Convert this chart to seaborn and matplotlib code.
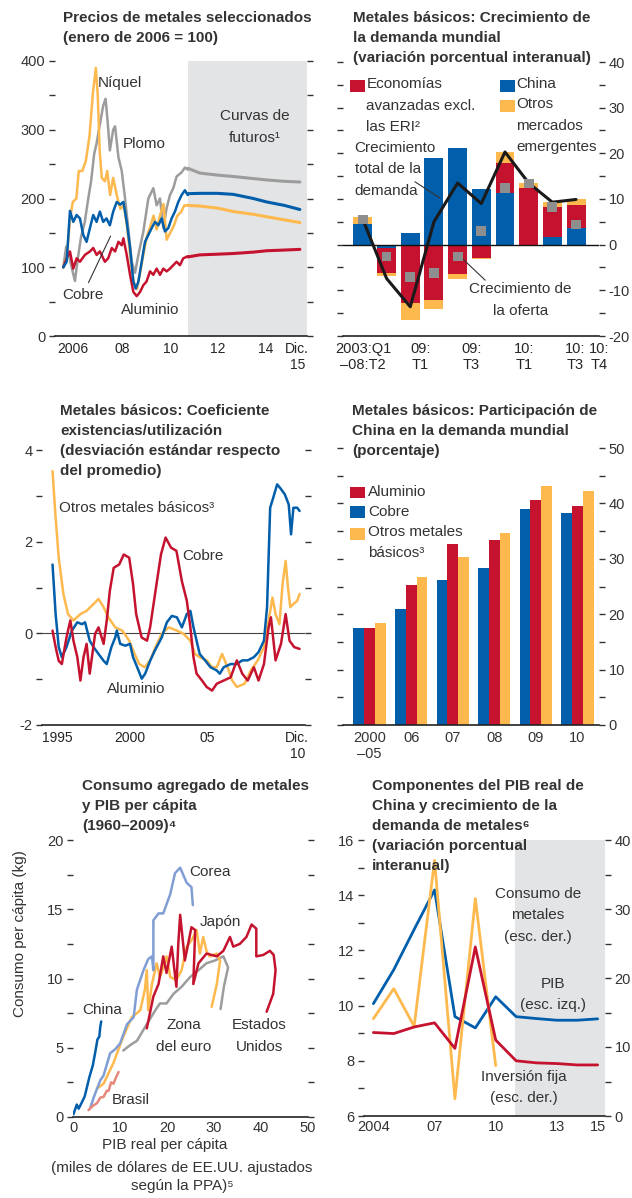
import numpy as np
import pandas as pd
import seaborn as sns
import matplotlib.pyplot as plt
from matplotlib.patches import Rectangle

sns.set_style('white')
plt.rcParams['font.family'] = ['Liberation Sans', 'DejaVu Sans']
plt.rcParams['axes.unicode_minus'] = False

ROJO = '#C5132F'
AZUL = '#005EAB'
NARANJA = '#FDB94E'
GRIS = '#9C9C9C'
AZUL_CLARO = '#809ED3'
SALMON = '#E8877B'
SOMBRA = '#E3E4E6'
TXT = '#333333'
LS = 1.68

# ---- panel 1: precios de metales (enero 2006 = 100)
niquel_t = [2006.00, 2006.15, 2006.28, 2006.40, 2006.55, 2006.65, 2006.80, 2006.95, 2007.10, 2007.25,
            2007.37, 2007.45, 2007.53, 2007.62, 2007.75, 2007.85, 2007.97, 2008.10, 2008.25, 2008.40,
            2008.55, 2008.68, 2008.82, 2008.95, 2009.10, 2009.25, 2009.38, 2009.52, 2009.65, 2009.80,
            2009.93, 2010.07, 2010.22, 2010.35, 2010.50, 2010.65, 2010.80, 2010.95, 2011.10, 2011.24]
niquel_v = [100, 115, 170, 195, 200, 240, 240, 255, 290, 355, 390, 350, 270, 230, 225, 240, 205, 230, 205, 185,
            190, 160, 115, 80, 68, 95, 120, 145, 158, 175, 155, 175, 192, 140, 150, 160, 175, 180, 190, 190]
plomo_t = [2006.00, 2006.12, 2006.22, 2006.35, 2006.49, 2006.60, 2006.75, 2006.90, 2007.05, 2007.17,
           2007.30, 2007.40, 2007.55, 2007.68, 2007.78, 2007.87, 2007.96, 2008.10, 2008.18, 2008.32,
           2008.46, 2008.60, 2008.74, 2008.88, 2009.02, 2009.16, 2009.37, 2009.58, 2009.79, 2009.93,
           2010.07, 2010.21, 2010.35, 2010.49, 2010.63, 2010.77, 2010.98, 2011.12, 2011.24]
plomo_v = [100, 130, 120, 100, 80, 110, 145, 165, 200, 225, 265, 280, 310, 335, 345, 310, 270, 300, 305, 260,
           240, 200, 155, 108, 92, 118, 152, 200, 215, 190, 200, 157, 186, 205, 215, 232, 238, 245, 242]
cobre_t = [2006.00, 2006.14, 2006.28, 2006.42, 2006.56, 2006.70, 2006.84, 2006.98, 2007.12, 2007.26,
           2007.40, 2007.54, 2007.68, 2007.82, 2007.96, 2008.10, 2008.25, 2008.39, 2008.53, 2008.67,
           2008.81, 2008.95, 2009.05, 2009.16, 2009.30, 2009.44, 2009.58, 2009.72, 2009.86, 2010.00,
           2010.14, 2010.28, 2010.42, 2010.56, 2010.70, 2010.84, 2010.98, 2011.12, 2011.24]
cobre_v = [100, 108, 182, 166, 176, 171, 147, 137, 157, 176, 166, 181, 166, 171, 161, 181, 195, 191, 195, 166,
           128, 79, 69, 79, 108, 137, 147, 157, 166, 161, 171, 152, 157, 171, 181, 195, 205, 212, 205]
aluminio_t = [2006.00, 2006.14, 2006.28, 2006.42, 2006.56, 2006.70, 2006.91, 2007.12, 2007.26, 2007.40,
              2007.54, 2007.75, 2007.89, 2008.04, 2008.18, 2008.32, 2008.46, 2008.53, 2008.67, 2008.81,
              2008.95, 2009.09, 2009.23, 2009.37, 2009.50, 2009.65, 2009.79, 2009.93, 2010.07, 2010.21,
              2010.35, 2010.49, 2010.63, 2010.77, 2010.91, 2011.05, 2011.24]
aluminio_v = [100, 113, 123, 98, 113, 108, 118, 123, 128, 118, 123, 108, 113, 128, 123, 137, 132, 142, 118, 89,
              64, 58, 64, 74, 79, 94, 89, 98, 89, 98, 94, 98, 103, 108, 103, 113, 116]
futuros_t = [2011.24, 2011.75, 2012.5, 2013.16, 2014.0, 2014.56, 2015.3, 2015.96]
plomo_fut = [244, 237, 234, 232, 229, 227, 225, 224]
cobre_fut = [207, 207.5, 207.5, 206, 200, 195, 190, 184]
niquel_fut = [190, 189, 186, 181, 177, 173.5, 169, 165]
aluminio_fut = [115, 118, 119, 120, 122, 124, 125, 126]

# ---- panel 2: crecimiento de la demanda mundial
trimestres = ['2003:Q1–08:T2', '08:T3', '08:T4', '09:T1', '09:T2', '09:T3', '09:T4', '10:T1', '10:T2', '10:T3']
china = [4.5, -0.7, 2.5, 18.9, 21.1, 12.1, 11.3, 0.0, 1.6, 3.6]
avanzadas = [-0.4, -5.5, -12.8, -12.2, -6.5, -2.9, 6.6, 12.4, 6.6, 5.0]
otros_em = [1.5, -0.6, -3.6, -1.9, -1.1, -0.3, 2.5, 1.2, 1.1, 1.3]
demanda_total = [5.5, -7.4, -13.6, 5.0, 13.5, 9.0, 20.3, 13.5, 9.3, 9.9]
oferta = [5.5, -2.6, -7.1, -6.2, -2.6, 3.0, 12.4, 13.4, 8.2, 4.4]

# ---- panel 3: coeficiente existencias/utilizacion
alu_t = [1995.0, 1995.2, 1995.4, 1995.6, 1995.9, 1996.25, 1996.6, 1996.9, 1997.1, 1997.4, 1997.65, 1997.97,
         1998.3, 1998.5, 1998.8, 1999.05, 1999.15, 1999.37, 1999.7, 2000.0, 2000.2, 2000.55, 2000.76, 2000.98,
         2001.3, 2001.6, 2002.05, 2002.38, 2002.7, 2003.03, 2003.35, 2003.67, 2003.9, 2004.1, 2004.3, 2004.5,
         2004.85, 2005.2, 2005.6, 2005.8, 2006.05, 2006.5, 2006.9, 2007.25, 2007.6, 2008.0, 2008.3, 2008.65,
         2008.85, 2009.05, 2009.25, 2009.5, 2009.7, 2010.0, 2010.25, 2010.4, 2010.55, 2010.8, 2010.95]
alu_v = [1.5, 0.42, -0.3, -0.52, -0.3, 0.06, 0.24, 0.2, 0.24, -0.16, -0.3, -0.45, -0.6, -0.67, -0.3, -0.09,
         0.06, -0.23, -0.27, -0.23, -0.52, -0.81, -0.99, -0.88, -0.6, -0.38, -0.09, 0.24, 0.38, 0.35, 0.13,
         0.42, 0.49, 0.13, -0.16, -0.45, -0.59, -0.74, -0.81, -0.88, -0.74, -0.67, -0.67, -0.59, -0.59, -0.52,
         -0.41, -0.16, 0.57, 2.74, 2.96, 3.25, 3.17, 3.03, 2.81, 2.16, 2.74, 2.74, 2.67]
cu_t = [1995.0, 1995.2, 1995.4, 1995.6, 1995.9, 1996.15, 1996.35, 1996.6, 1996.8, 1997.0, 1997.2, 1997.4,
        1997.75, 1997.97, 1998.3, 1998.5, 1998.7, 1998.95, 1999.3, 1999.6, 1999.95, 2000.2, 2000.4, 2000.75,
        2001.1, 2001.3, 2001.65, 2002.0, 2002.3, 2002.65, 2003.0, 2003.35, 2003.67, 2003.9, 2004.1, 2004.3,
        2004.65, 2004.95, 2005.3, 2005.6, 2006.05, 2006.5, 2006.9, 2007.25, 2007.6, 2008.0, 2008.3, 2008.65,
        2008.95, 2009.1, 2009.4, 2009.75, 2010.05, 2010.3, 2010.6, 2010.95]
cu_v = [0.06, -0.3, -0.6, -0.67, -0.09, 0.28, -0.16, -0.52, -1.03, -0.52, -0.23, -0.88, -0.01, 0.13, -0.23,
        0.28, 0.93, 1.43, 1.5, 1.72, 1.65, 1.07, 0.42, -0.09, -0.16, 0.13, 0.93, 1.72, 2.09, 1.87, 1.8, 1.14,
        0.71, 0.13, -0.52, -0.88, -1.03, -1.17, -1.25, -1.1, -1.03, -0.96, -0.59, -0.88, -1.03, -0.74, -1.03,
        -0.67, 0.13, 0.35, -0.59, -0.23, 0.42, -0.16, -0.3, -0.34]
otros_t = [1995.0, 1995.2, 1995.4, 1995.7, 1996.0, 1996.35, 1996.8, 1997.2, 1997.65, 1997.97, 1998.3, 1998.6,
           1999.05, 1999.5, 1999.95, 2000.3, 2000.6, 2000.95, 2001.3, 2001.65, 2002.05, 2002.5, 2003.03,
           2003.45, 2003.9, 2004.2, 2004.5, 2004.95, 2005.3, 2005.6, 2005.95, 2006.3, 2006.6, 2006.9, 2007.4,
           2007.8, 2008.25, 2008.65, 2008.95, 2009.2, 2009.4, 2009.65, 2009.85, 2010.05, 2010.2, 2010.35,
           2010.55, 2010.8, 2010.95]
otros_v = [3.54, 2.52, 1.65, 0.86, 0.42, 0.28, 0.42, 0.49, 0.64, 0.75, 0.57, 0.35, 0.13, 0.06, -0.16, -0.45,
           -0.67, -0.74, -0.59, -0.3, -0.01, 0.13, 0.06, -0.01, -0.16, -0.45, -0.52, -0.59, -0.74, -0.74,
           -0.45, -0.74, -1.03, -1.17, -1.1, -0.81, -0.59, -0.3, 0.28, 0.78, 0.42, 0.2, 1.07, 1.58, 1.0, 0.57,
           0.64, 0.71, 0.86]

# ---- panel 4: participacion de China (%)
periodos = ['2000\n–05', '06', '07', '08', '09', '10']
part_cobre = [17.5, 21.0, 26.2, 28.4, 38.9, 38.3]
part_aluminio = [17.5, 25.3, 32.7, 33.4, 40.7, 39.6]
part_otros = [18.4, 26.7, 30.4, 34.7, 43.2, 42.3]

# ---- panel 5: consumo per capita vs PIB per capita
china_x = [0.1, 0.5, 0.8, 1.2, 1.8, 2.5, 3.0, 3.5, 4.2, 4.8, 5.2, 5.6, 5.8, 6.0]
china_y = [0.2, 0.6, 0.9, 0.6, 1.0, 1.5, 2.2, 2.9, 3.7, 4.8, 5.6, 5.8, 6.5, 6.9]
corea_x = [3.7, 4.5, 5.8, 6.5, 7.9, 9.0, 10.0, 11.5, 12.9, 13.6, 15.0, 16.0, 16.8, 17.1, 17.1, 18.2, 19.2,
           20.7, 21.7, 22.8, 24.2, 25.2, 25.5]
corea_y = [0.7, 1.5, 2.65, 3.0, 4.6, 4.9, 5.3, 6.7, 7.2, 9.2, 10.6, 11.4, 11.6, 10.6, 14.2, 14.7, 14.7,
           16.1, 17.6, 18.0, 16.9, 16.6, 15.3]
japon_x = [5.1, 6.5, 8.6, 10.7, 12.5, 14.3, 15.3, 15.7, 16.0, 16.8, 17.8, 18.5, 19.2, 19.9, 20.7, 22.0, 23.1,
           24.2, 25.3, 26.3, 27.0, 27.7, 28.4, 29.1, 30.6, 31.3, 30.6, 29.5]
japon_y = [2.05, 2.4, 3.9, 5.8, 7.2, 7.7, 9.2, 10.6, 7.7, 9.6, 11.1, 10.1, 10.8, 11.6, 10.1, 9.9, 10.6,
           12.3, 12.8, 13.5, 11.8, 13.0, 12.0, 11.6, 11.8, 11.3, 9.6, 7.95]
euro_x = [10.7, 12.2, 13.6, 15.7, 17.5, 18.5, 19.9, 21.4, 23.1, 24.9, 26.7, 28.4, 30.2, 32.0, 33.0, 32.1, 31.4]
euro_y = [4.8, 5.2, 5.5, 6.7, 7.7, 8.2, 8.2, 8.9, 9.4, 10.1, 10.6, 11.1, 11.3, 11.6, 10.8, 9.4, 7.8]
eeuu_x = [15.7, 17.1, 18.2, 19.2, 19.9, 21.0, 22.0, 22.4, 22.8, 23.8, 25.2, 26.0, 25.6, 26.7, 28.4, 30.6,
          32.0, 33.4, 34.1, 35.5, 36.9, 38.0, 39.0, 39.0, 40.5, 41.9, 42.7, 43.1, 42.6, 41.2]
eeuu_y = [6.4, 8.7, 9.6, 11.6, 10.4, 12.3, 9.4, 12.5, 14.6, 11.3, 13.7, 13.5, 9.6, 11.1, 11.8, 11.6, 12.0,
          13.0, 12.3, 12.5, 13.0, 13.9, 13.6, 11.6, 11.7, 12.0, 11.7, 10.6, 8.9, 7.6]
brasil_x = [3.3, 4.2, 5.1, 5.8, 6.5, 7.2, 7.6, 8.1, 8.6, 9.2, 9.7]
brasil_y = [0.5, 0.8, 1.0, 1.4, 1.45, 1.9, 1.9, 2.5, 2.4, 2.9, 3.25]

# ---- panel 6: PIB de China y demanda de metales
anios = list(range(2004, 2016))
pib = [10.07, 11.3, 12.76, 14.19, 9.6, 9.19, 10.32, 9.6, 9.53, 9.47, 9.47, 9.52]
inversion_fija = [12.1, 11.95, 12.9, 13.5, 9.8, 24.5, 11.0, 8.0, 7.7, 7.6, 7.4, 7.4]
consumo_metales = [14.1, 18.45, 13.0, 37.05, 2.5, 31.5, 7.3]

fig = plt.figure(figsize=(6.32, 11.98), dpi=100)


def caja(l, t, r, b):
    # axes placed from pixel box of the reference
    return fig.add_axes([l / 632, 1 - b / 1198, (r - l) / 632, (b - t) / 1198])


def estilo(ax):
    for s in ['top', 'left', 'right']:
        ax.spines[s].set_visible(False)
    ax.spines['bottom'].set_color('#222222')
    ax.spines['bottom'].set_linewidth(1.2)
    ax.tick_params(axis='both', colors='#333333', labelcolor=TXT, labelsize=10.5, width=1, length=4, pad=3)
    ax.tick_params(axis='x', direction='in', length=5)
    ax.xaxis.remove_overlapping_locs = False
    ax.set_xlabel('')
    ax.set_ylabel('')
    ax.grid(False)


def titulo(x, y, s):
    fig.text(x / 632, 1 - y / 1198, s, ha='left', va='top', fontsize=11, fontweight='bold',
             color=TXT, linespacing=1.55)


def nota(ax, x, y, s, ha='left', va='center', **kw):
    ax.text(x, y, s, ha=ha, va=va, fontsize=11, color=TXT, linespacing=LS, **kw)


def etiquetas(v, paso):
    return [('%g' % t) if abs(t / paso - round(t / paso)) < 1e-6 else '' for t in v]


# ================= panel 1
ax1 = caja(55, 61, 307, 336)
ax1.axvspan(2011.24, 2016.3, color=SOMBRA, lw=0, zorder=0)
for t, v, f, c in [(plomo_t, plomo_v, plomo_fut, GRIS), (niquel_t, niquel_v, niquel_fut, NARANJA),
                   (aluminio_t, aluminio_v, aluminio_fut, ROJO), (cobre_t, cobre_v, cobre_fut, AZUL)]:
    sns.lineplot(x=t, y=v, ax=ax1, color=c, lw=1.8, estimator=None)
    sns.lineplot(x=futuros_t, y=f, ax=ax1, color=c, lw=2.2, estimator=None)
ax1.set_xlim(2005.65, 2016.26)
ax1.set_ylim(0, 400)
estilo(ax1)
yt = np.arange(0, 401, 50)
ax1.set_yticks(yt, etiquetas(yt, 100))
ax1.tick_params(axis='y', left=True, right=True)
xt = list(range(2006, 2016)) + [2015.96]
ax1.set_xticks(xt, [''] * len(xt))
ax1.set_xticks([2006.4, 2008.5, 2010.5, 2012.5, 2014.5, 2015.85],
               ['2006', '08', '10', '12', '14', 'Dic.\n15'], minor=True)
ax1.tick_params(axis='x', which='minor', length=0, pad=4)
nota(ax1, 2007.46, 368, 'Níquel')
nota(ax1, 2008.5, 280, 'Plomo')
nota(ax1, 2005.97, 60, 'Cobre')
nota(ax1, 2008.42, 38, 'Aluminio')
nota(ax1, 2014.07, 304, 'Curvas de\nfuturos¹', ha='center')
ax1.annotate('', xy=(2008.04, 149), xytext=(2007.01, 74),
             arrowprops=dict(arrowstyle='-', color='#333333', lw=0.8))
titulo(63, 11, 'Precios de metales seleccionados\n(enero de 2006 = 100)')

# ================= panel 2
ax2 = caja(343, 62, 599, 336)
x2 = np.arange(len(trimestres))
base_pos = np.zeros(len(x2))
base_neg = np.zeros(len(x2))
for vals, c in [(china, AZUL), (avanzadas, ROJO), (otros_em, NARANJA)]:
    vals = np.array(vals)
    ax2.bar(x2, vals, bottom=np.where(vals >= 0, base_pos, base_neg), width=0.8, color=c, lw=0, zorder=2)
    base_pos += np.where(vals > 0, vals, 0)
    base_neg += np.where(vals < 0, vals, 0)
ax2.axhline(0, color='#111111', lw=1, zorder=3)
sns.lineplot(x=x2, y=demanda_total, ax=ax2, color='#1A1A1A', lw=2.2, zorder=4)
sns.scatterplot(x=x2, y=oferta, ax=ax2, marker='s', s=50, color='#8E8E8E', edgecolor='none', zorder=5)
ax2.set_xlim(-0.84, 9.92)
ax2.set_ylim(-20, 40)
estilo(ax2)
yt = np.arange(-20, 41, 5)
ax2.set_yticks(yt, etiquetas(yt, 10))
ax2.tick_params(axis='y', left=True, right=True, labelleft=False, labelright=True)
ax2.set_xticks(x2, [''] * len(x2))
ax2.set_xticks([0, 2.42, 4.59, 6.79, 8.96, 9.97],
               ['2003:Q1\n–08:T2', '09:\nT1', '09:\nT3', '10:\nT1', '10:\nT3', '10:\nT4'], minor=True)
ax2.tick_params(axis='x', which='minor', length=0, pad=4, labelsize=10.5)
for (fx, fy), c in [((0.026, 0.891), ROJO), ((0.612, 0.891), AZUL), ((0.612, 0.818), NARANJA)]:
    ax2.add_patch(Rectangle((fx, fy), 0.058, 0.043, transform=ax2.transAxes, color=c, lw=0, clip_on=False))
nota(ax2, 0.091, 0.944, 'Economías\navanzadas excl.\nlas ERI²', va='top', transform=ax2.transAxes)
nota(ax2, 0.677, 0.944, 'China', va='top', transform=ax2.transAxes)
nota(ax2, 0.677, 0.871, 'Otros\nmercados\nemergentes', va='top', transform=ax2.transAxes)
nota(ax2, -0.35, 22.8, 'Crecimiento\ntotal de la\ndemanda', va='top')
nota(ax2, 6.65, -8.2, 'Crecimiento de\nla oferta', ha='center', va='top')
ax2.annotate('', xy=(3.36, 9.85), xytext=(2.1, 14.1), arrowprops=dict(arrowstyle='-', color='#333333', lw=0.8))
ax2.annotate('', xy=(5.25, -8.2), xytext=(4.06, -2.35), arrowprops=dict(arrowstyle='-', color='#333333', lw=0.8))
titulo(353, 11, 'Metales básicos: Crecimiento de\nla demanda mundial\n(variación porcentual interanual)')

# ================= panel 3
ax3 = caja(42, 450, 305, 725)
ax3.axhline(0, color='#444444', lw=0.8, zorder=1)
for t, v, c in [(otros_t, otros_v, NARANJA), (alu_t, alu_v, AZUL), (cu_t, cu_v, ROJO)]:
    sns.lineplot(x=t, y=v, ax=ax3, color=c, lw=1.8, estimator=None)
ax3.set_xlim(1994.32, 2011.3)
ax3.set_ylim(-2, 4)
estilo(ax3)
yt = np.arange(-2, 4.1, 1)
ax3.set_yticks(yt, etiquetas(yt, 2))
ax3.tick_params(axis='y', left=True, right=True)
xt = list(range(1995, 2011)) + [2010.96]
ax3.set_xticks(xt, [''] * len(xt))
ax3.set_xticks([1995.3, 2000, 2005, 2010.8], ['1995', '2000', '05', 'Dic.\n10'], minor=True)
ax3.tick_params(axis='x', which='minor', length=0, pad=4)
nota(ax3, 1995.39, 2.74, 'Otros metales básicos³')
nota(ax3, 2003.35, 1.69, 'Cobre')
nota(ax3, 1998.5, -1.21, 'Aluminio')
titulo(60, 404, 'Metales básicos: Coeficiente\nexistencias/utilización\n(desviación estándar respecto\ndel promedio)')

# ================= panel 4
ax4 = caja(343, 448, 599, 725)
metales = ['Cobre', 'Aluminio', 'Otros metales básicos']
df4 = pd.DataFrame({'periodo': periodos * 3,
                    'metal': [m for m in metales for _ in periodos],
                    'valor': part_cobre + part_aluminio + part_otros})
sns.barplot(data=df4, x='periodo', y='valor', hue='metal', order=periodos, hue_order=metales,
            palette=[AZUL, ROJO, NARANJA], saturation=1, linewidth=0, width=0.78, legend=False, ax=ax4)
ax4.set_xlim(-0.64, 5.52)
ax4.set_ylim(0, 50)
estilo(ax4)
yt = np.arange(0, 51, 5)
ax4.set_yticks(yt, etiquetas(yt, 10))
ax4.tick_params(axis='y', left=True, right=True, labelleft=False, labelright=True)
ax4.tick_params(axis='x', length=0, pad=4)
for fy, c in [(0.819, ROJO), (0.747, AZUL), (0.669, NARANJA)]:
    ax4.add_patch(Rectangle((0.026, fy), 0.058, 0.042, transform=ax4.transAxes, color=c, lw=0, clip_on=False))
nota(ax4, 0.0975, 0.84, 'Aluminio', transform=ax4.transAxes)
nota(ax4, 0.0975, 0.768, 'Cobre', transform=ax4.transAxes)
nota(ax4, 0.0975, 0.722, 'Otros metales\nbásicos³', va='top', transform=ax4.transAxes)
titulo(352, 404, 'Metales básicos: Participación de\nChina en la demanda mundial\n(porcentaje)')

# ================= panel 5
ax5 = caja(73, 840, 308, 1117)
for x, y, c in [(euro_x, euro_y, GRIS), (japon_x, japon_y, NARANJA), (eeuu_x, eeuu_y, ROJO),
                (corea_x, corea_y, AZUL_CLARO), (china_x, china_y, AZUL), (brasil_x, brasil_y, SALMON)]:
    sns.lineplot(x=x, y=y, ax=ax5, color=c, lw=1.8, sort=False, estimator=None)
ax5.set_xlim(0, 50)
ax5.set_ylim(0, 20)
estilo(ax5)
yt = np.arange(0, 20.1, 2.5)
ax5.set_yticks(yt, etiquetas(yt, 5))
ax5.tick_params(axis='y', left=True, right=True)
xt = np.arange(0, 51, 5)
ax5.set_xticks(xt, etiquetas(xt, 10))
nota(ax5, 24.7, 17.7, 'Corea')
nota(ax5, 26.9, 14.1, 'Japón')
nota(ax5, 1.9, 7.7, 'China')
nota(ax5, 23.5, 5.86, 'Zona\ndel euro', ha='center')
nota(ax5, 39.6, 5.86, 'Estados\nUnidos', ha='center')
nota(ax5, 8.3, 1.2, 'Brasil')
fig.text(20 / 632, 1 - 934 / 1198, 'Consumo per cápita (kg)', rotation=90, ha='center', va='center',
         fontsize=11, color=TXT)
fig.text(165 / 632, 1 - 1145 / 1198, 'PIB real per cápita', ha='center', va='center', fontsize=11, color=TXT)
fig.text(182 / 632, 1 - 1177 / 1198, '(miles de dólares de EE.UU. ajustados\nsegún la PPA)⁵',
         ha='center', va='center', fontsize=11, color=TXT, linespacing=1.4)
titulo(82, 779, 'Consumo agregado de metales\ny PIB per cápita\n(1960–2009)⁴')

# ================= panel 6
ax6 = caja(364, 840, 605, 1116)
ax6b = ax6.twinx()
ax6.axvspan(2010.95, 2015.5, color=SOMBRA, lw=0, zorder=0)
sns.lineplot(x=anios, y=pib, ax=ax6, color=AZUL, lw=2)
sns.lineplot(x=anios[:len(consumo_metales)], y=consumo_metales, ax=ax6b, color=NARANJA, lw=2)
sns.lineplot(x=anios, y=inversion_fija, ax=ax6b, color=ROJO, lw=2)
ax6.set_xlim(2003.54, 2015.36)
ax6.set_ylim(6, 16)
ax6b.set_ylim(0, 40)
estilo(ax6)
estilo(ax6b)
ax6b.spines['bottom'].set_visible(False)
yt = np.arange(6, 16.1, 1)
ax6.set_yticks(yt, etiquetas(yt, 2))
ax6.tick_params(axis='y', left=True, right=False)
yt = np.arange(0, 41, 5)
ax6b.set_yticks(yt, etiquetas(yt, 10))
ax6b.tick_params(axis='y', left=False, right=True, labelright=True, labelleft=False)
ax6.set_xticks(anios, ['2004', '', '', '07', '', '', '10', '', '', '13', '', '15'])
nota(ax6, 2012.06, 13.28, 'Consumo de\nmetales\n(esc. der.)', ha='center')
nota(ax6, 2012.82, 10.41, 'PIB\n(esc. izq.)', ha='center')
nota(ax6, 2011.4, 7.03, 'Inversión fija\n(esc. der.)', ha='center')
titulo(372, 779, 'Componentes del PIB real de\nChina y crecimiento de la\ndemanda de metales⁶\n(variación porcentual\ninteranual)')

fig.savefig('out.png', dpi=100)
